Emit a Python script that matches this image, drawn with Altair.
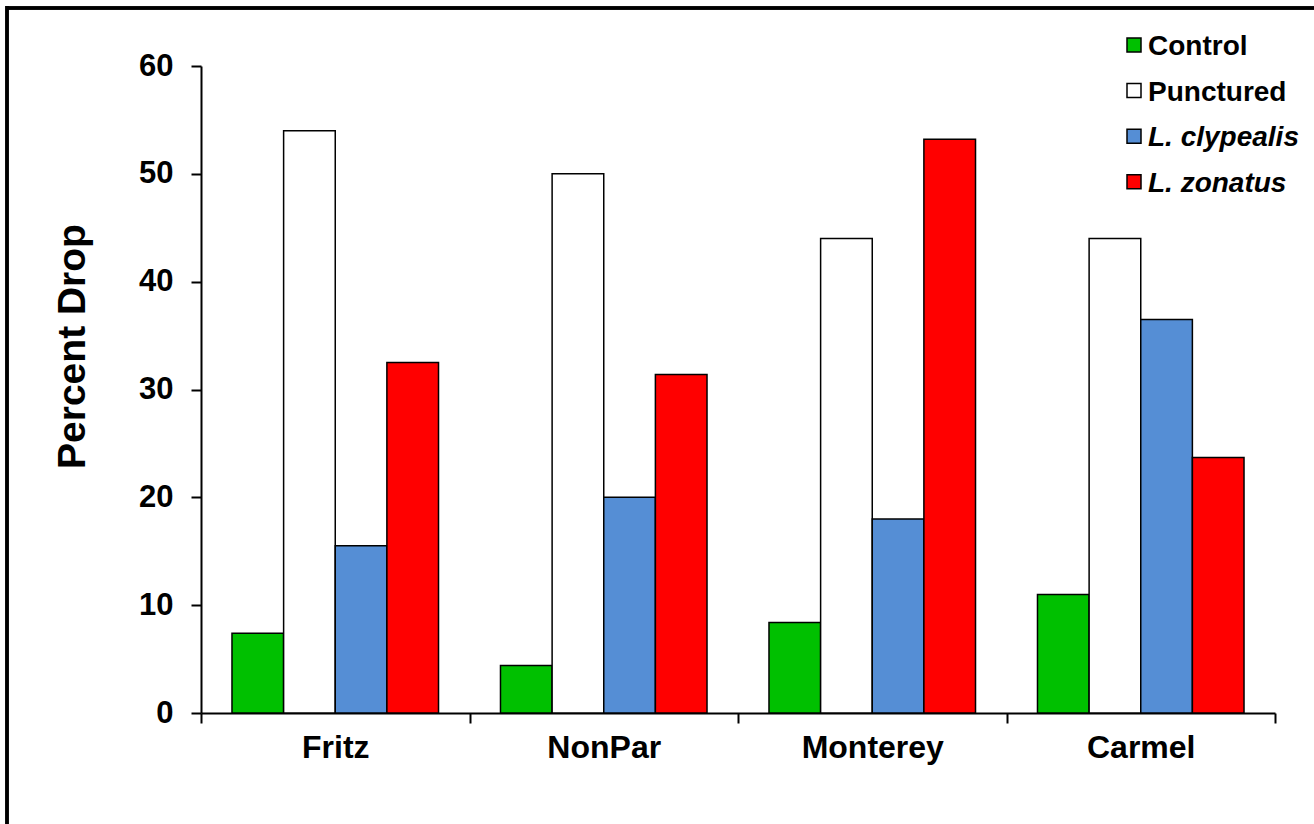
import altair as alt
import pandas as pd

# Percent fruit drop per site and treatment
sites = ["Fritz", "NonPar", "Monterey", "Carmel"]
series = ["Control", "Punctured", "L. clypealis", "L. zonatus"]
control = [7.4, 4.4, 8.4, 11.0]
punctured = [54.0, 50.0, 44.0, 44.0]
clypealis = [15.5, 20.0, 18.0, 36.5]
zonatus = [32.5, 31.4, 53.2, 23.7]
colors = ["#00C000", "#FFFFFF", "#558ED5", "#FF0000"]
y_ticks = [0, 10, 20, 30, 40, 50, 60]

FONT = "Liberation Sans"

rows = []
for vals, name in zip([control, punctured, clypealis, zonatus], series):
    for site, v in zip(sites, vals):
        rows.append({"site": site, "series": name, "value": v})
df = pd.DataFrame(rows)

legend_df = pd.DataFrame({
    "series": series,
    "idx": list(range(len(series))),
    "italic": [False, False, True, True],
})

color_scale = alt.Scale(domain=series, range=colors)

bars = alt.Chart(df).mark_bar(stroke="black", strokeWidth=1.5).encode(
    x=alt.X(
        "site:N", sort=sites, title=None,
        scale=alt.Scale(paddingInner=0, paddingOuter=0),
        axis=alt.Axis(
            tickBand="extent", labelAngle=0, labelFont=FONT, labelFontSize=32,
            labelFontWeight="bold", labelColor="black", labelPadding=9,
            domainColor="black", domainWidth=2, tickColor="black",
            tickWidth=2, tickSize=10,
        ),
    ),
    xOffset=alt.XOffset(
        "series:N", sort=series,
        scale=alt.Scale(paddingInner=0, paddingOuter=0.6),
    ),
    y=alt.Y(
        "value:Q", title="Percent Drop",
        scale=alt.Scale(domain=[0, 60], nice=False),
        axis=alt.Axis(
            values=y_ticks, grid=False, labelFont=FONT, labelFontSize=31,
            labelFontWeight="bold", labelColor="black", labelPadding=18,
            domainColor="black", domainWidth=2, tickColor="black",
            tickWidth=2, tickSize=10,
            titleFont=FONT, titleFontSize=39, titleFontWeight="bold",
            titleColor="black", titleX=-117, titleY=280,
            titleAlign="center", titleBaseline="alphabetic", titleAngle=-90,
        ),
    ),
    color=alt.Color("series:N", scale=color_scale, legend=None),
)

# Legend drawn as marks so the species names can be italic
legend_base = alt.Chart(legend_df).transform_calculate(
    ly="-21 + 45.6 * datum.idx"
)

legend_symbols = legend_base.mark_point(
    shape="square", size=196, filled=True, stroke="black", strokeWidth=1.5,
    opacity=1,
).encode(
    x=alt.value(933),
    y=alt.Y("ly:Q", scale=None, axis=None),
    fill=alt.Fill("series:N", scale=color_scale, legend=None),
)

legend_plain = legend_base.transform_filter("!datum.italic").mark_text(
    align="left", baseline="alphabetic", font=FONT, fontSize=28,
    fontWeight="bold", color="black", dy=10,
).encode(
    x=alt.value(947),
    y=alt.Y("ly:Q", scale=None, axis=None),
    text="series:N",
)

legend_italic = legend_base.transform_filter("datum.italic").mark_text(
    align="left", baseline="alphabetic", font=FONT, fontSize=28,
    fontWeight="bold", fontStyle="italic", color="black", dy=10,
).encode(
    x=alt.value(947),
    y=alt.Y("ly:Q", scale=None, axis=None),
    text="series:N",
)

# Frame lines along the top and left of the figure
frame_left = alt.Chart(legend_df).mark_rule(color="black", strokeWidth=3).encode(
    x=alt.value(-194), y=alt.value(-60), y2=alt.value(800)
)
frame_top = alt.Chart(legend_df).mark_rule(color="black", strokeWidth=3).encode(
    x=alt.value(-195), x2=alt.value(1120), y=alt.value(-58)
)

chart = alt.layer(
    bars, legend_symbols, legend_plain, legend_italic, frame_left, frame_top
).properties(
    width=1074, height=647,
    autosize=alt.AutoSizeParams(type="none"),
    padding={"left": 201, "top": 66, "right": 39, "bottom": 111},
    background="white",
).configure_view(stroke=None)

chart.save("out.html", embed_options={"renderer": "svg", "actions": False})
